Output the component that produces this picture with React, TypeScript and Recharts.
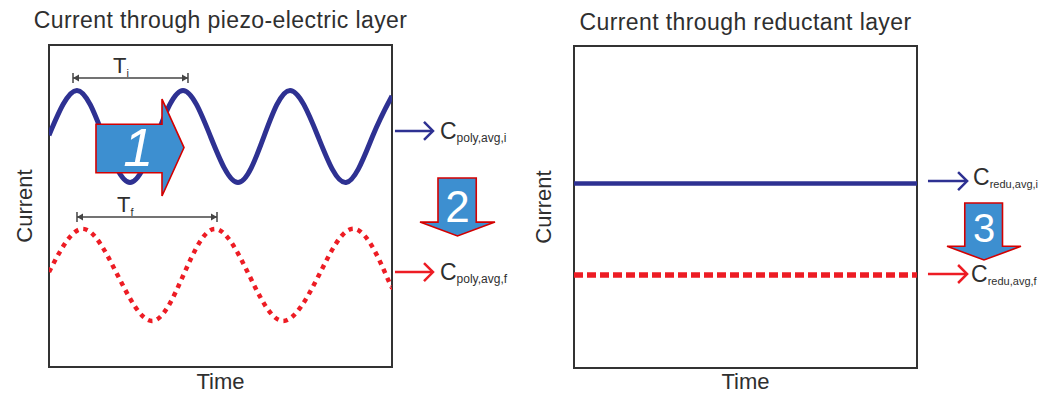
import React from 'react';
import { LineChart, Line, XAxis, YAxis, ReferenceArea, ReferenceLine } from 'recharts';

const FONT = '"Liberation Sans", Arial, Helvetica, sans-serif';
const BLUE = '#2e3192';
const RED = '#ed1c24';
const ARROW_FILL = '#3d8fd0';
const ARROW_EDGE = '#d40000';
const INK = '#2f2f2f';
const FRAME = '#333333';

// ---- Data (time and current in arbitrary units, 0..100) ----
// Piezo-electric layer, initial current (solid blue wave)
const piezoInitialTime = [0, 8.16, 15.89, 23.62, 31.34, 39.07, 47.08, 55.1, 62.68, 70.26, 78.43, 86.59, 94.31, 100];
const piezoInitialCurrent = [72.0, 85.9, 71.6, 57.3, 71.6, 85.9, 71.6, 57.3, 71.6, 85.9, 71.6, 57.3, 71.6, 84.2];

// Piezo-electric layer, final current (dotted red wave)
const piezoFinalTime = [0, 9.91, 19.97, 30.03, 39.21, 48.4, 58.31, 68.22, 78.72, 89.21, 98.25, 100];
const piezoFinalCurrent = [29.5, 42.9, 28.6, 14.3, 28.6, 42.9, 28.6, 14.3, 28.6, 42.9, 28.6, 24.8];

// Reductant layer (constant currents)
const reductantTime = [0, 100];
const reductantInitialCurrent = [57.3, 57.3];
const reductantFinalCurrent = [28.9, 28.9];

// Titles / labels
const titles = ['Current through piezo-electric layer', 'Current through reductant layer'];
const xLabel = 'Time';
const yLabel = 'Current';

// Period markers
const periodNames = ['i', 'f'];
const periodStart = [7.0, 8.16];
const periodEnd = [40.52, 48.98];
const periodLevel = [89.75, 46.58];

// Average-current pointers
const piezoAvgSubs = ['poly,avg,i', 'poly,avg,f'];
const piezoAvgLevel = [73.3, 29.5];
const piezoAvgFrom = 100.87;
const piezoAvgTo = 111.95;
const reductAvgSubs = ['redu,avg,i', 'redu,avg,f'];
const reductAvgLevel = [58.07, 29.19];
const reductAvgFrom = 103.2;
const reductAvgTo = 114.6;

// Step arrows
const stepLabels = ['1', '2', '3'];
const stepDirs = ['right', 'down', 'down'];
const stepX1 = [13.7, 108.16, 108.75];
const stepX2 = [39.36, 130.03, 130.32];
const stepY1 = [53.1, 40.68, 33.54];
const stepY2 = [83.2, 58.7, 51.24];

const rows = (ts: number[], vs: number[]) => ts.map((t, i) => ({ t, c: vs[i] }));

const piezoInitial = rows(piezoInitialTime, piezoInitialCurrent);
const piezoFinal = rows(piezoFinalTime, piezoFinalCurrent);
const reductInitial = rows(reductantTime, reductantInitialCurrent);
const reductFinal = rows(reductantTime, reductantFinalCurrent);

const FrameShape = (title: string, titleOffset: number) => (p: any) => (
  <g>
    <rect x={p.x} y={p.y} width={p.width} height={p.height} fill="none" stroke={FRAME} strokeWidth={2} />
    <text
      x={p.x + p.width / 2}
      y={p.y - titleOffset}
      textAnchor="middle"
      fontSize={23}
      letterSpacing={0.4}
      fill={INK}
      fontFamily={FONT}
    >
      {title}
    </text>
  </g>
);

const BlockArrow = (idx: number) => (p: any) => {
  const { x, y, width: w, height: h } = p;
  const dir = stepDirs[idx];
  let pts: number[][];
  let cx: number;
  let cy: number;
  let fs: number;
  let italic = false;
  if (dir === 'right') {
    const hx = x + 0.75 * w;
    pts = [
      [x, y + 0.26 * h],
      [hx, y + 0.26 * h],
      [hx, y],
      [x + w, y + h / 2],
      [hx, y + h],
      [hx, y + 0.76 * h],
      [x, y + 0.76 * h],
    ];
    cx = x + 0.48 * w;
    cy = y + 0.49 * h;
    fs = 54;
    italic = true;
  } else {
    const hy = y + 0.76 * h;
    pts = [
      [x + 0.24 * w, y],
      [x + 0.75 * w, y],
      [x + 0.75 * w, hy],
      [x + w, hy],
      [x + w / 2, y + h],
      [x, hy],
      [x + 0.24 * w, hy],
    ];
    cx = x + 0.5 * w;
    cy = y + (idx === 1 ? 0.49 : 0.43) * h;
    fs = idx === 1 ? 44 : 40;
  }
  return (
    <g>
      <polygon
        points={pts.map((q) => q.join(',')).join(' ')}
        fill={ARROW_FILL}
        stroke={ARROW_EDGE}
        strokeWidth={1.6}
        strokeLinejoin="miter"
      />
      <text
        x={cx}
        y={cy + 0.358 * fs}
        textAnchor="middle"
        fontSize={fs}
        fontStyle={italic ? 'italic' : 'normal'}
        fill="#ffffff"
        fontFamily={FONT}
      >
        {stepLabels[idx]}
      </text>
    </g>
  );
};

const PeriodMark = (idx: number) => (p: any) => {
  const { x1, y1, x2 } = p;
  const y = y1;
  const c = '#444';
  return (
    <g>
      <line x1={x1} y1={y} x2={x2} y2={y} stroke={c} strokeWidth={1.5} />
      <line x1={x1} y1={y - 5} x2={x1} y2={y + 5} stroke={c} strokeWidth={1.5} />
      <line x1={x2} y1={y - 5} x2={x2} y2={y + 5} stroke={c} strokeWidth={1.5} />
      <polygon points={`${x1},${y} ${x1 + 6},${y - 3.5} ${x1 + 6},${y + 3.5}`} fill={c} />
      <polygon points={`${x2},${y} ${x2 - 6},${y - 3.5} ${x2 - 6},${y + 3.5}`} fill={c} />
      <text x={x1 + 40} y={y - 5} fontSize={22} fill={INK} fontFamily={FONT}>
        T
        <tspan fontSize={11} dy={4}>
          {periodNames[idx]}
        </tspan>
      </text>
    </g>
  );
};

const AvgPointer = (sub: string, color: string, gap: number, dy: number, subFs: number) => (p: any) => {
  const { x1, y1, x2 } = p;
  return (
    <g>
      <line x1={x1} y1={y1} x2={x2} y2={y1} stroke={color} strokeWidth={2.5} />
      <polyline
        points={`${x2 - 9},${y1 - 9} ${x2},${y1} ${x2 - 9},${y1 + 9}`}
        fill="none"
        stroke={color}
        strokeWidth={2.5}
      />
      <text x={x2 + gap} y={y1 + dy} fontSize={23} fill={INK} fontFamily={FONT}>
        C
        <tspan fontSize={subFs} dy={3}>
          {sub}
        </tspan>
      </text>
    </g>
  );
};

const axisLabelStyle = { fontSize: 22, fill: INK, fontFamily: FONT };

const LEFT_MARGIN = { top: 45, right: 138, bottom: 0, left: 0 };
const RIGHT_MARGIN = { top: 46, right: 130, bottom: 0, left: 0 };

export default function App() {
  return (
    <div
      style={{
        position: 'absolute',
        left: 0,
        top: 0,
        width: 1047,
        height: 394,
        background: '#ffffff',
        fontFamily: FONT,
        overflow: 'hidden',
      }}
    >
      <div style={{ position: 'absolute', left: 0, top: 0 }}>
        <LineChart width={530} height={394} margin={LEFT_MARGIN}>
          <XAxis
            dataKey="t"
            type="number"
            domain={[0, 100]}
            allowDataOverflow
            tick={false}
            tickLine={false}
            axisLine={false}
            height={27}
            label={{ value: xLabel, position: 'insideBottom', offset: 5, ...axisLabelStyle }}
          />
          <YAxis
            type="number"
            domain={[0, 100]}
            allowDataOverflow
            tick={false}
            tickLine={false}
            axisLine={false}
            width={49}
            label={{ value: yLabel, angle: -90, position: 'center', ...axisLabelStyle }}
          />
          <ReferenceArea x1={0} x2={100} y1={0} y2={100} ifOverflow="visible" shape={FrameShape(titles[0], 17)} />
          <Line
            data={piezoInitial}
            dataKey="c"
            type="natural"
            stroke={BLUE}
            strokeWidth={5}
            dot={false}
            activeDot={false}
            isAnimationActive={false}
          />
          <Line
            data={piezoFinal}
            dataKey="c"
            type="natural"
            stroke={RED}
            strokeWidth={4.5}
            strokeDasharray="4.5 5"
            dot={false}
            activeDot={false}
            isAnimationActive={false}
          />
          {periodNames.map((n, i) => (
            <ReferenceLine
              key={'p' + n}
              segment={[
                { x: periodStart[i], y: periodLevel[i] },
                { x: periodEnd[i], y: periodLevel[i] },
              ]}
              ifOverflow="visible"
              shape={PeriodMark(i)}
            />
          ))}
          {piezoAvgSubs.map((s, i) => (
            <ReferenceLine
              key={s}
              segment={[
                { x: piezoAvgFrom, y: piezoAvgLevel[i] },
                { x: piezoAvgTo, y: piezoAvgLevel[i] },
              ]}
              ifOverflow="visible"
              shape={AvgPointer(s, i === 0 ? BLUE : RED, 7, 8, 12)}
            />
          ))}
          <ReferenceArea
            x1={stepX1[1]}
            x2={stepX2[1]}
            y1={stepY1[1]}
            y2={stepY2[1]}
            ifOverflow="visible"
            shape={BlockArrow(1)}
          />
        </LineChart>
      </div>
      <div style={{ position: 'absolute', left: 512, top: 0 }}>
        <LineChart width={535} height={394} margin={RIGHT_MARGIN}>
          <XAxis
            dataKey="t"
            type="number"
            domain={[0, 100]}
            allowDataOverflow
            tick={false}
            tickLine={false}
            axisLine={false}
            height={26}
            label={{ value: xLabel, position: 'insideBottom', offset: 5, ...axisLabelStyle }}
          />
          <YAxis
            type="number"
            domain={[0, 100]}
            allowDataOverflow
            tick={false}
            tickLine={false}
            axisLine={false}
            width={62}
            label={{ value: yLabel, angle: -90, position: 'center', ...axisLabelStyle }}
          />
          <ReferenceArea x1={0} x2={100} y1={0} y2={100} ifOverflow="visible" shape={FrameShape(titles[1], 16)} />
          <Line
            data={reductInitial}
            dataKey="c"
            type="linear"
            stroke={BLUE}
            strokeWidth={4.5}
            dot={false}
            activeDot={false}
            isAnimationActive={false}
          />
          <Line
            data={reductFinal}
            dataKey="c"
            type="linear"
            stroke={RED}
            strokeWidth={5.5}
            strokeDasharray="9 4"
            dot={false}
            activeDot={false}
            isAnimationActive={false}
          />
          {reductAvgSubs.map((s, i) => (
            <ReferenceLine
              key={s}
              segment={[
                { x: reductAvgFrom, y: reductAvgLevel[i] },
                { x: reductAvgTo, y: reductAvgLevel[i] },
              ]}
              ifOverflow="visible"
              shape={AvgPointer(s, i === 0 ? BLUE : RED, i === 0 ? 6 : 4, i === 0 ? 4 : 8, 11)}
            />
          ))}
          <ReferenceArea
            x1={stepX1[2]}
            x2={stepX2[2]}
            y1={stepY1[2]}
            y2={stepY2[2]}
            ifOverflow="visible"
            shape={BlockArrow(2)}
          />
        </LineChart>
      </div>
      {/* overlay layer so that step arrow 1 sits above the blue wave */}
      <div style={{ position: 'absolute', left: 0, top: 0, pointerEvents: 'none' }}>
        <LineChart width={530} height={394} margin={LEFT_MARGIN}>
          <XAxis
            dataKey="t"
            type="number"
            domain={[0, 100]}
            allowDataOverflow
            tick={false}
            tickLine={false}
            axisLine={false}
            height={27}
          />
          <YAxis
            type="number"
            domain={[0, 100]}
            allowDataOverflow
            tick={false}
            tickLine={false}
            axisLine={false}
            width={49}
          />
          <ReferenceArea
            x1={stepX1[0]}
            x2={stepX2[0]}
            y1={stepY1[0]}
            y2={stepY2[0]}
            ifOverflow="visible"
            shape={BlockArrow(0)}
          />
        </LineChart>
      </div>
    </div>
  );
}
